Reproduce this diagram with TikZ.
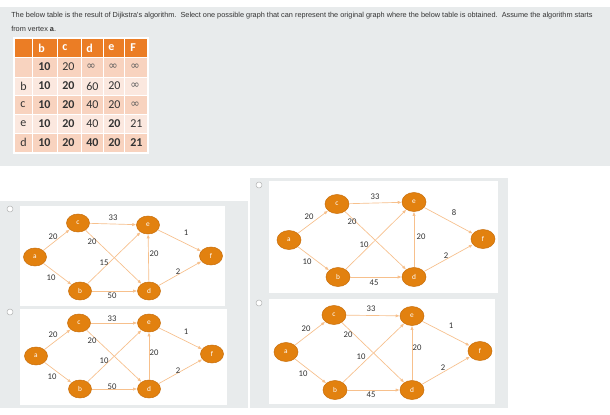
\documentclass[tikz,border=0pt]{standalone}
\usepackage{fontspec}
\setmainfont{Carlito}
\newfontfamily\qfont{Liberation Sans}
\newfontfamily\symfnt{DejaVu Sans}
\usetikzlibrary{shapes.geometric,arrows.meta}
\definecolor{panelgray}{HTML}{E8EBEC}
\definecolor{nodeor}{HTML}{E2810F}
\definecolor{nodeedge}{HTML}{C96F0C}
\definecolor{edgecol}{HTML}{F7C08C}
\definecolor{labcol}{HTML}{333333}
\definecolor{hdr}{HTML}{EB7D25}
\definecolor{rowA}{HTML}{F8D3BF}
\definecolor{rowB}{HTML}{FBE8DF}
\definecolor{radio}{HTML}{B5B5B5}
\begin{document}
\begin{tikzpicture}[x=0.75pt,y=-0.75pt,
  vtx/.style={ellipse, fill=nodeor, draw=nodeedge, line width=0.4pt,
    minimum width=17.25pt, minimum height=13.5pt, inner sep=0pt,
    text=white, font=\fontsize{5.5}{6}\selectfont},
  vtxb/.style={vtx, minimum width=18pt, minimum height=14.25pt},
  wedge/.style={draw=edgecol, line width=0.5pt, -{Latex[length=3pt,width=2.4pt]}},
  wlab/.style={font=\fontsize{6.5}{7}\selectfont, text=labcol, inner sep=0pt},
  cell/.style={anchor=west, inner sep=0pt, font=\fontsize{9}{10}\selectfont, text=labcol},
  bcell/.style={cell, font=\fontsize{9}{10}\selectfont\bfseries},
  hcell/.style={anchor=west, inner sep=0pt, font=\fontsize{9}{10}\selectfont\bfseries, text=white},
  inf/.style={anchor=west, inner sep=0pt, font=\symfnt\fontsize{8.5}{9}\selectfont, text=labcol!80},
  rbtn/.style={circle, draw=radio, fill=white, line width=0.4pt, minimum size=4.5pt, inner sep=0pt},
  qtext/.style={anchor=west, inner sep=0pt, text=labcol, font=\qfont\fontsize{5.5}{6}\selectfont}
]
\useasboundingbox (0,0) rectangle (610,414);
\fill[white] (0,0) rectangle (610,414);
% panels
\fill[panelgray] (0,7) rectangle (610,166);
\fill[panelgray] (0,201) rectangle (248,408);
\fill[panelgray] (250,178) rectangle (508,408);
\fill[white] (20,206) rectangle (225,306);
\fill[white] (20,309) rectangle (227,405);
\fill[white] (269,181) rectangle (498,293);
\fill[white] (269,299) rectangle (495,404);
\node[rbtn] (r1) at (10,209) {};
\node[rbtn] (r2) at (10,312) {};
\node[rbtn] (r3) at (259,185) {};
\node[rbtn] (r4) at (259,303) {};
% question text
\node[qtext] (q1) at (11,16) {The below table is the result of Dijkstra's algorithm.\ \ Select one possible graph that can represent the original graph where the below table is obtained.\ \ Assume the algorithm starts};
\node[qtext] (q2) at (11,28.5) {from vertex \textbf{a}.};
% table
\fill[white] (13,37) rectangle (149,154);
\fill[hdr] (15,39) rectangle (147,57);
\fill[rowA] (15,57) rectangle (147,77);
\fill[rowB] (15,77) rectangle (147,95);
\fill[rowA] (15,95) rectangle (147,114);
\fill[rowB] (15,114) rectangle (147,133);
\fill[rowA] (15,133) rectangle (147,152);
\foreach \x in {32,57,81,103,124} \draw[white,line width=0.75pt] (\x,39) -- (\x,152);
\foreach \y in {57,77,95,114,133} \draw[white,line width=0.75pt] (15,\y) -- (147,\y);
% header
\node[hcell] (h1) at (38,48) {b};
\node[hcell] (h2) at (62,48) {c};
\node[hcell] (h3) at (86,48) {d};
\node[hcell] (h4) at (108,48) {e};
\node[hcell] (h5) at (130,48) {F};
% row 1
\node[bcell] (t11) at (38,67) {10};
\node[cell] (t12) at (62,67) {20};
\node[inf] (t13) at (86,67) {∞};
\node[inf] (t14) at (108,67) {∞};
\node[inf] (t15) at (130,67) {∞};
% row 2
\node[cell] (t20) at (20,86) {b};
\node[bcell] (t21) at (38,86) {10};
\node[bcell] (t22) at (62,86) {20};
\node[cell] (t23) at (86,86) {60};
\node[cell] (t24) at (108,86) {20};
\node[inf] (t25) at (130,86) {∞};
% row 3
\node[cell] (t30) at (20,104.5) {c};
\node[bcell] (t31) at (38,104.5) {10};
\node[bcell] (t32) at (62,104.5) {20};
\node[cell] (t33) at (86,104.5) {40};
\node[cell] (t34) at (108,104.5) {20};
\node[inf] (t35) at (130,104.5) {∞};
% row 4
\node[cell] (t40) at (20,123.5) {e};
\node[bcell] (t41) at (38,123.5) {10};
\node[bcell] (t42) at (62,123.5) {20};
\node[cell] (t43) at (86,123.5) {40};
\node[bcell] (t44) at (108,123.5) {20};
\node[cell] (t45) at (130,123.5) {21};
% row 5
\node[cell] (t50) at (20,142.5) {d};
\node[bcell] (t51) at (38,142.5) {10};
\node[bcell] (t52) at (62,142.5) {20};
\node[bcell] (t53) at (86,142.5) {40};
\node[bcell] (t54) at (108,142.5) {20};
\node[bcell] (t55) at (130,142.5) {21};

% ---------- panel 1 (left top) ----------
\node[vtx] (Aa) at (35,257) {a};
\node[vtx] (Ac) at (78,223) {c};
\node[vtx] (Ae) at (148,225) {e};
\node[vtx] (Ab) at (80,291) {b};
\node[vtx] (Ad) at (149,291) {d};
\node[vtx] (Af) at (211,256) {f};
\draw[wedge] (Aa) -- (Ac);
\draw[wedge] (Aa) -- (Ab);
\draw[wedge] (Ac) -- (Ae);
\draw[wedge] (Ac) -- (Ad);
\draw[wedge] (Ab) -- (Ae);
\draw[wedge] (Ab) -- (Ad);
\draw[wedge] (Ad) -- (Ae);
\draw[wedge] (Ae) -- (Af);
\draw[wedge] (Ad) -- (Af);
\node[wlab] (Al1) at (53,237) {20};
\node[wlab] (Al2) at (113,218) {33};
\node[wlab] (Al3) at (92,242) {20};
\node[wlab] (Al4) at (104,263) {15};
\node[wlab] (Al5) at (154,254) {20};
\node[wlab] (Al6) at (186,233) {1};
\node[wlab] (Al7) at (178,272) {2};
\node[wlab] (Al8) at (51,278) {10};
\node[wlab] (Al9) at (112,296) {50};

% ---------- panel 2 (left bottom) ----------
\node[vtx] (Ba) at (36,356) {a};
\node[vtx] (Bc) at (79,323) {c};
\node[vtx] (Be) at (149,323) {e};
\node[vtx] (Bb) at (80,389) {b};
\node[vtx] (Bd) at (149,389) {d};
\node[vtx] (Bf) at (212,354) {f};
\draw[wedge] (Ba) -- (Bc);
\draw[wedge] (Ba) -- (Bb);
\draw[wedge] (Bc) -- (Be);
\draw[wedge] (Bc) -- (Bd);
\draw[wedge] (Bb) -- (Be);
\draw[wedge] (Bb) -- (Bd);
\draw[wedge] (Bd) -- (Be);
\draw[wedge] (Be) -- (Bf);
\draw[wedge] (Bd) -- (Bf);
\node[wlab] (Bl1) at (53,335) {20};
\node[wlab] (Bl2) at (112,319) {33};
\node[wlab] (Bl3) at (92,341) {20};
\node[wlab] (Bl4) at (104,361) {10};
\node[wlab] (Bl5) at (154,353) {20};
\node[wlab] (Bl6) at (186,332) {1};
\node[wlab] (Bl7) at (178,371) {2};
\node[wlab] (Bl8) at (52,377) {10};
\node[wlab] (Bl9) at (112,387) {50};

% ---------- panel 3 (right top) ----------
\node[vtxb] (Ca) at (289,240) {a};
\node[vtxb] (Cc) at (337,204) {c};
\node[vtxb] (Ce) at (414,202) {e};
\node[vtxb] (Cb) at (338,277) {b};
\node[vtxb] (Cd) at (414,277) {d};
\node[vtxb] (Cf) at (483,239) {f};
\draw[wedge] (Ca) -- (Cc);
\draw[wedge] (Ca) -- (Cb);
\draw[wedge] (Cc) -- (Ce);
\draw[wedge] (Cc) -- (Cd);
\draw[wedge] (Cb) -- (Ce);
\draw[wedge] (Cb) -- (Cd);
\draw[wedge] (Cd) -- (Ce);
\draw[wedge] (Ce) -- (Cf);
\draw[wedge] (Cd) -- (Cf);
\node[wlab] (Cl1) at (309,217) {20};
\node[wlab] (Cl2) at (375,197) {33};
\node[wlab] (Cl3) at (352,222) {20};
\node[wlab] (Cl4) at (364,245) {10};
\node[wlab] (Cl5) at (421,237) {20};
\node[wlab] (Cl6) at (454,213) {8};
\node[wlab] (Cl7) at (446,256) {2};
\node[wlab] (Cl8) at (307,262) {10};
\node[wlab] (Cl9) at (374,283) {45};

% ---------- panel 4 (right bottom) ----------
\node[vtxb] (Da) at (286,352) {a};
\node[vtxb] (Dc) at (334,315) {c};
\node[vtxb] (De) at (412,316) {e};
\node[vtxb] (Db) at (335,390) {b};
\node[vtxb] (Dd) at (412,390) {d};
\node[vtxb] (Df) at (480,351) {f};
\draw[wedge] (Da) -- (Dc);
\draw[wedge] (Da) -- (Db);
\draw[wedge] (Dc) -- (De);
\draw[wedge] (Dc) -- (Dd);
\draw[wedge] (Db) -- (De);
\draw[wedge] (Db) -- (Dd);
\draw[wedge] (Dd) -- (De);
\draw[wedge] (De) -- (Df);
\draw[wedge] (Dd) -- (Df);
\node[wlab] (Dl1) at (306,329) {20};
\node[wlab] (Dl2) at (371,309) {33};
\node[wlab] (Dl3) at (348,335) {20};
\node[wlab] (Dl4) at (361,357) {10};
\node[wlab] (Dl5) at (417,348) {20};
\node[wlab] (Dl6) at (451,326) {1};
\node[wlab] (Dl7) at (443,368) {2};
\node[wlab] (Dl8) at (303,374) {10};
\node[wlab] (Dl9) at (371,395) {45};
\end{tikzpicture}
\end{document}
